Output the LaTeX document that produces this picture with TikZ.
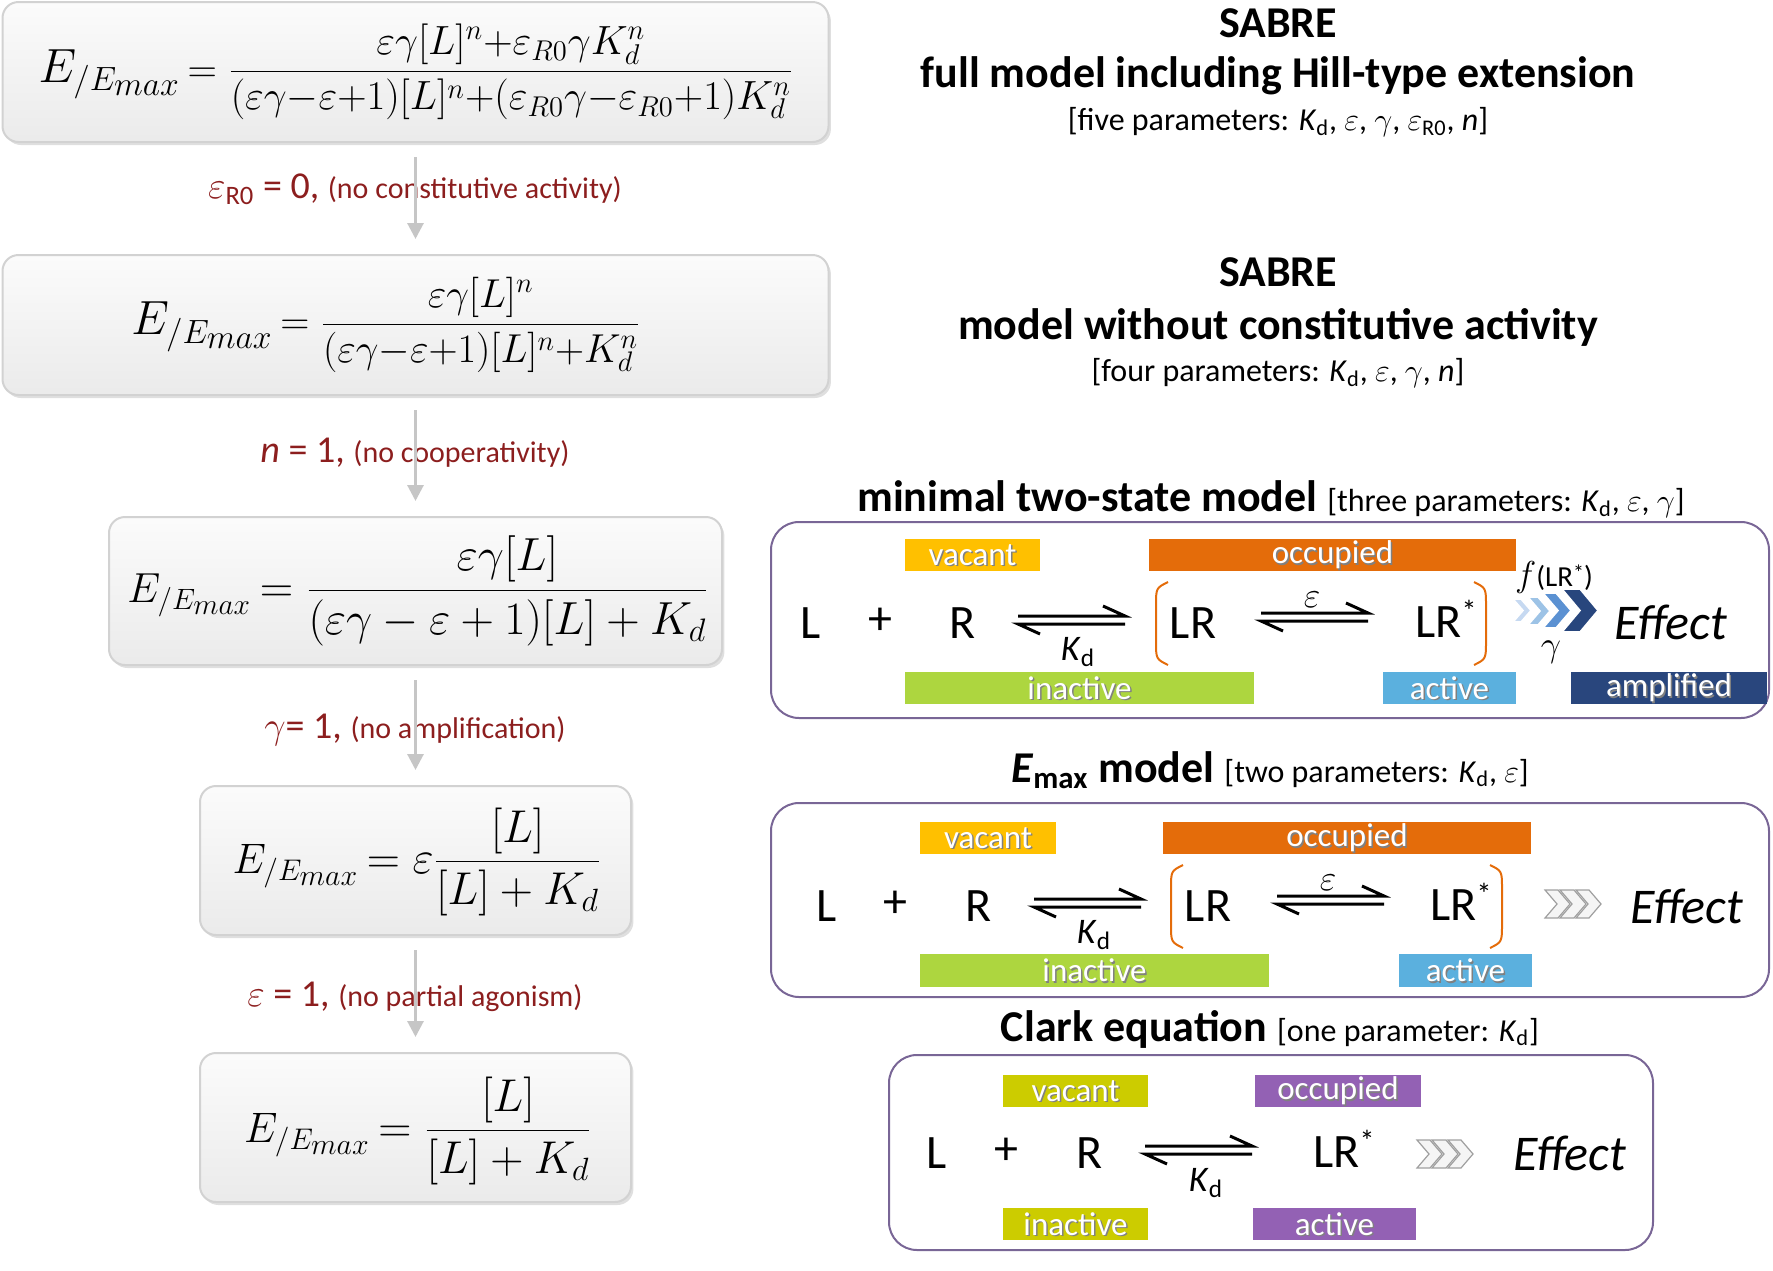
\RequirePackage{fix-cm}
\documentclass[tikz,border=0pt]{standalone}
\usepackage{fontspec}
\setmainfont{Carlito}
\usetikzlibrary{calc,shadows,arrows.meta}
\definecolor{labred}{RGB}{140,30,30}
\definecolor{vacA}{RGB}{255,192,0}
\definecolor{occA}{RGB}{228,108,10}
\definecolor{inaA}{RGB}{173,214,63}
\definecolor{actA}{RGB}{91,176,222}
\definecolor{amplC}{RGB}{41,70,125}
\definecolor{vacC}{RGB}{204,204,0}
\definecolor{purC}{RGB}{147,97,180}
\definecolor{boxpurp}{RGB}{121,102,150}
\definecolor{brkor}{RGB}{228,108,10}
\definecolor{chA}{RGB}{198,217,241}
\definecolor{chB}{RGB}{157,195,230}
\definecolor{chC}{RGB}{91,145,210}
\definecolor{chD}{RGB}{40,70,125}
\newcommand\Kd{\textit{K}\textsubscript{d}}
\newcommand\Star[1]{\raisebox{#1}{\fontsize{15}{15}\selectfont *}}
\newcommand\EE[1]{{\fontsize{#1}{#1}\selectfont$E_{/E_{\scriptstyle max}}$}}
\newcommand\tagbox[7]{%
  \fill[#6] (#2,#3) rectangle (#4,#5);
  \node[tagsh] (#1s) at ({(#2+#4)/2+1.5},{(#3+#5)/2+1.5}) {#7};
  \node[tagtx] (#1) at ({(#2+#4)/2},{(#3+#5)/2}) {#7};}
\newcommand\eqarr[4]{%
  \coordinate (#1) at ({(#2+#3)/2},#4);
  \draw[eqline] (#2,#4-4) -- (#3,#4-4) -- (#3-22,#4-14);
  \draw[eqline] (#3,#4+4) -- (#2,#4+4) -- (#2+22,#4+14);}
\newcommand\lbrk[3]{%
  \draw[brk] (#1+12,#2) .. controls (#1,#2+6) .. (#1,#2+24) -- (#1,#3-24) .. controls (#1,#3-6) .. (#1+12,#3);}
\newcommand\rbrk[3]{%
  \draw[brk] (#1-12,#2) .. controls (#1,#2+6) .. (#1,#2+24) -- (#1,#3-24) .. controls (#1,#3-6) .. (#1-12,#3);}
\newcommand\chev[6]{%
  \filldraw[#6] (#1,#3) -- (#2-#5,#3) -- (#2,{(#3+#4)/2}) -- (#2-#5,#4) -- (#1,#4) -- (#1+#5,{(#3+#4)/2}) -- cycle;}
\begin{document}
\begin{tikzpicture}[x=0.5pt,y=-0.5pt,
  title/.style={font=\fontsize{22}{26}\selectfont\bfseries, inner sep=0},
  subt/.style={font=\fontsize{16}{19}\selectfont, inner sep=0},
  chem/.style={font=\fontsize{24}{28}\selectfont, inner sep=0},
  eff/.style={font=\fontsize{25}{30}\selectfont\itshape, inner sep=0},
  kd/.style={font=\fontsize{18}{20}\selectfont, inner sep=0},
  tagtx/.style={font=\fontsize{16.5}{19}\selectfont, text=white, inner sep=0},
  tagsh/.style={tagtx, text=black!50},
  lab/.style={text=labred, inner sep=0},
  eqbox/.style={rounded corners=8pt, top color=gray!3, bottom color=gray!16, draw=gray!35, line width=1pt,
     drop shadow={shadow xshift=1.2pt, shadow yshift=-1.5pt, fill=gray!55, opacity=0.45}},
  eqtx/.style={inner sep=0},
  rbox/.style={draw=boxpurp, line width=1pt, rounded corners=14pt},
  flow/.style={draw=gray!45, line width=1.5pt, -{Triangle[length=8pt,width=8pt]}, shorten <=7pt, shorten >=7.5pt},
  eqline/.style={line width=1.5pt},
  brk/.style={draw=brkor, line width=1pt},
  chevA/.style={draw=white, line width=0.8pt},
  chevG/.style={fill=gray!8, draw=gray!75, line width=0.6pt}]
\useasboundingbox (0,0) rectangle (1773,1270);

% ---------- left column ----------
\node[eqbox, minimum width=413pt, minimum height=70pt] (b1) at (415.5,72) {};
\node[eqbox, minimum width=413pt, minimum height=70pt] (b2) at (415.5,325) {};
\node[eqbox, minimum width=306.5pt, minimum height=74pt] (b3) at (415.5,591) {};
\node[eqbox, minimum width=215.5pt, minimum height=74.5pt] (b4) at (415.5,860.5) {};
\node[eqbox, minimum width=215.5pt, minimum height=74.5pt] (b5) at (415.5,1127.5) {};

\node[eqtx, font=\fontsize{20.4}{24}\selectfont] (e1) at (416,72)
 {\EE{24}\,$\displaystyle = \frac{\varepsilon\gamma[L]^n{+}\varepsilon_{R0}\gamma K_d^n}{(\varepsilon\gamma{-}\varepsilon{+}1)[L]^n{+}(\varepsilon_{R0}\gamma{-}\varepsilon_{R0}{+}1)K_d^n}$};
\node[eqtx, font=\fontsize{20.2}{24}\selectfont] (e2) at (386,325)
 {\EE{24}\,$\displaystyle = \frac{\varepsilon\gamma[L]^n}{(\varepsilon\gamma{-}\varepsilon{+}1)[L]^n{+}K_d^n}$};
\node[eqtx, font=\fontsize{23.2}{27}\selectfont] (e3) at (418,591)
 {\EE{21}\,$\displaystyle = \frac{\varepsilon\gamma[L]}{(\varepsilon\gamma - \varepsilon + 1)[L] + K_d}$};
\node[eqtx, font=\fontsize{23}{27}\selectfont] (e4) at (417,862)
 {\EE{21.3}\,$\displaystyle = \varepsilon\frac{[L]}{[L] + K_d}$};
\node[eqtx, font=\fontsize{23}{27}\selectfont] (e5) at (418,1131)
 {\EE{21.3}\,$\displaystyle = \frac{[L]}{[L] + K_d}$};

\node[lab] (l1) at (415,189) {\fontsize{19}{22}\selectfont$\varepsilon$\textsubscript{R0} = 0, \fontsize{15}{18}\selectfont(no constitutive activity)};
\node[lab] (l2) at (415,453) {\fontsize{19}{22}\selectfont\textit{n} = 1, \fontsize{15}{18}\selectfont(no cooperativity)};
\node[lab] (l3) at (415,730) {\fontsize{19}{22}\selectfont$\gamma$= 1, \fontsize{15}{18}\selectfont(no amplification)};
\node[lab] (l4) at (415,997) {\fontsize{19}{22}\selectfont$\varepsilon$ = 1, \fontsize{15}{18}\selectfont(no partial agonism)};

\draw[flow] (b1) -- (b2);
\draw[flow] (b2) -- (b3);
\draw[flow] (b3) -- (b4);
\draw[flow] (b4) -- (b5);

% ---------- right titles ----------
\node[title] (s1) at (1278,23) {SABRE};
\node[title] (s1b) at (1278,76) {full model including Hill-type extension};
\node[subt] (s1c) at (1278,122) {[five parameters: \Kd, $\varepsilon$, $\gamma$, $\varepsilon$\textsubscript{R0}, \textit{n}]};
\node[title] (s2) at (1278,272) {SABRE};
\node[title] (s2b) at (1278,327) {model without constitutive activity};
\node[subt] (s2c) at (1278,373) {[four parameters: \Kd, $\varepsilon$, $\gamma$, \textit{n}]};
\node[title] (tA) at (1271,499) {minimal two-state model {\mdseries\fontsize{16}{19}\selectfont [three parameters: \Kd, $\varepsilon$, $\gamma$]}};
\node[title] (tB) at (1270,770) {\textit{E}\textsubscript{max} model {\mdseries\fontsize{16}{19}\selectfont [two parameters: \Kd, $\varepsilon$]}};
\node[title] (tC) at (1270,1029) {Clark equation {\mdseries\fontsize{16}{19}\selectfont [one parameter: \Kd]}};

% ---------- box A ----------
\draw[rbox] (771,522) rectangle (1769,718);
\tagbox{vA}{905}{539}{1040}{571}{vacA}{vacant}
\tagbox{oA}{1149}{539}{1516}{571}{occA}{occupied}
\tagbox{iA}{905}{672}{1254}{704}{inaA}{inactive}
\tagbox{aA}{1383}{672}{1516}{704}{actA}{active}
\tagbox{mA}{1571}{672}{1767}{704}{amplC}{amplified}
\node[chem] (LA) at (811,623) {L};
\node[chem] (pA) at (880,621) {+};
\node[chem] (RA) at (963,623) {R};
\eqarr{qA1}{1018}{1125}{620}
\node[kd] (kA) at (1078,652) {\Kd};
\lbrk{1156}{582}{665}
\node[chem] (LRA) at (1193,623) {LR};
\eqarr{qA2}{1261}{1368}{617}
\node[kd] (epA) at (1312,600) {$\varepsilon$};
\node[chem] (LRsA) at (1446,619) {LR\Star{8pt}};
\rbrk{1486}{582}{665}
\chev{1513}{1531}{599}{622}{10}{chevA, fill=chA}
\chev{1528}{1550}{597}{625}{12}{chevA, fill=chB}
\chev{1543}{1571}{593}{628}{15}{chevA, fill=chC}
\chev{1562}{1598}{589}{632}{18}{chevA, fill=chD}
\node[inner sep=0, font=\fontsize{14.5}{16}\selectfont] (fA) at (1554,577) {{\fontsize{18}{18}\selectfont$f$}(LR{\fontsize{11}{11}\selectfont\raisebox{3pt}{*}})};
\node[kd] (gA) at (1551,652) {$\gamma$};
\node[eff] (EA) at (1671,622) {Effect};

% ---------- box B ----------
\draw[rbox] (771,803) rectangle (1769,997);
\tagbox{vB}{920}{822}{1056}{854}{vacA}{vacant}
\tagbox{oB}{1163}{822}{1531}{854}{occA}{occupied}
\tagbox{iB}{920}{954}{1269}{987}{inaA}{inactive}
\tagbox{aB}{1399}{954}{1532}{987}{actA}{active}
\node[chem] (LB) at (827,906) {L};
\node[chem] (pB) at (895,904) {+};
\node[chem] (RB) at (979,906) {R};
\eqarr{qB1}{1034}{1141}{903}
\node[kd] (kB) at (1094,935) {\Kd};
\lbrk{1171}{865}{948}
\node[chem] (LRB) at (1208,906) {LR};
\eqarr{qB2}{1277}{1384}{900}
\node[kd] (epB) at (1328,883) {$\varepsilon$};
\node[chem] (LRsB) at (1461,902) {LR\Star{8pt}};
\rbrk{1502}{865}{948}
\chev{1545}{1570}{890}{918}{12}{chevG}
\chev{1560}{1586}{890}{918}{12}{chevG}
\chev{1576}{1601}{890}{918}{12}{chevG}
\node[eff] (EB) at (1687,906) {Effect};

% ---------- box C ----------
\draw[rbox] (889,1055) rectangle (1653,1250);
\tagbox{vC}{1003}{1075}{1148}{1107}{vacC}{vacant}
\tagbox{oC}{1255}{1075}{1421}{1107}{purC}{occupied}
\tagbox{iC}{1003}{1208}{1148}{1240}{vacC}{inactive}
\tagbox{aC}{1253}{1208}{1416}{1240}{purC}{active}
\node[chem] (LC) at (937,1153) {L};
\node[chem] (pC) at (1006,1151) {+};
\node[chem] (RC) at (1090,1153) {R};
\eqarr{qC1}{1145}{1252}{1150}
\node[kd] (kC) at (1206,1183) {\Kd};
\node[chem] (LRsC) at (1344,1149) {LR\Star{8pt}};
\chev{1417}{1442}{1140}{1168}{12}{chevG}
\chev{1432}{1458}{1140}{1168}{12}{chevG}
\chev{1448}{1473}{1140}{1168}{12}{chevG}
\node[eff] (EC) at (1570,1153) {Effect};
\end{tikzpicture}
\end{document}
